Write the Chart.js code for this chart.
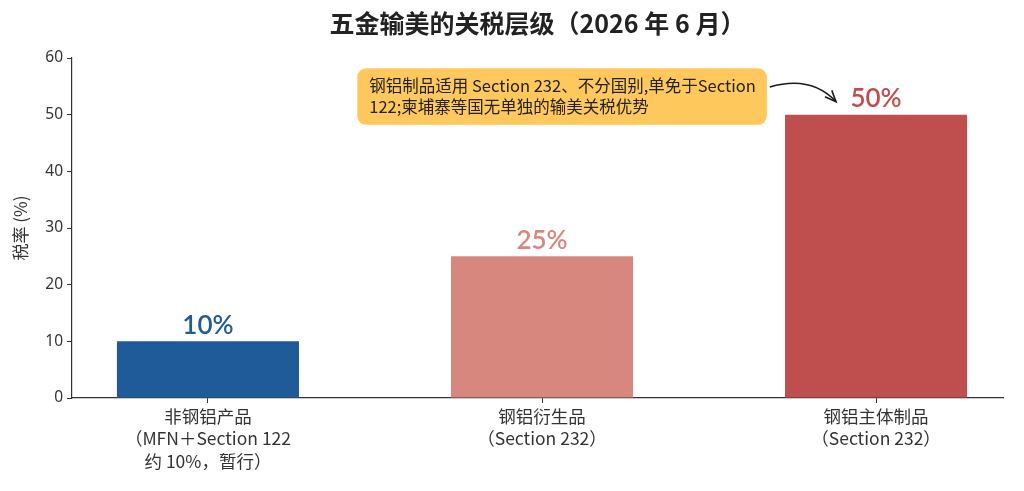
<!DOCTYPE html>
<html>
<head>
<meta charset="utf-8">
<script src="https://cdn.jsdelivr.net/npm/chart.js@4.4.1/dist/chart.umd.min.js"></script>
<style>
  html, body { margin: 0; padding: 0; background: #fff; }
  #wrap { width: 1024px; height: 491px; }
</style>
</head>
<body>
<div id="wrap"><canvas id="tariffChart"></canvas></div>
<script>
// ==================== DATA ====================
const categories = [
    ['非钢铝产品', '（MFN＋Section 122', '约 10%，暂行）'],
    ['钢铝衍生品', '（Section 232）'],
    ['钢铝主体制品', '（Section 232）']
];
const rates = [10, 25, 50];
const rateLabels = ['10%', '25%', '50%'];
const barColors = ['#1f5b99', '#d8877f', '#bf4f4e'];
const yTicks = [0, 10, 20, 30, 40, 50, 60];
const noteLines = [
    '钢铝制品适用 Section 232、不分国别,单免于Section',
    '122;柬埔寨等国无单独的输美关税优势'
];

const CJK = '"Noto Sans CJK SC", "Noto Sans", sans-serif';
const AXIS_COLOR = '#333';

// value labels above each bar
const valueLabels = {
    id: 'valueLabels',
    afterDatasetsDraw(chart) {
        const ctx = chart.ctx;
        const meta = chart.getDatasetMeta(0);
        ctx.save();
        ctx.font = '600 26px Lato, "Noto Sans", sans-serif';
        ctx.textAlign = 'center';
        ctx.textBaseline = 'bottom';
        meta.data.forEach((bar, i) => {
            ctx.fillStyle = barColors[i];
            ctx.fillText(rateLabels[i], bar.x, bar.y - 3);
        });
        ctx.restore();
    }
};

// note box with curved arrow toward the 50% bar
const noteBox = {
    id: 'noteBox',
    afterDraw(chart) {
        const ctx = chart.ctx;
        const xs = chart.scales.x, ys = chart.scales.y;
        const left = xs.getPixelForValue(0.447);
        const right = xs.getPixelForValue(1.673);
        const top = ys.getPixelForValue(58.2);
        const bottom = ys.getPixelForValue(48.2);
        ctx.save();
        ctx.fillStyle = '#ffc85c';
        ctx.beginPath();
        ctx.roundRect(left, top, right - left, bottom - top, 9);
        ctx.fill();

        ctx.fillStyle = '#222';
        ctx.font = '16.5px ' + CJK;
        ctx.textAlign = 'left';
        ctx.textBaseline = 'middle';
        const lh = 21;
        const midY = (top + bottom) / 2;
        noteLines.forEach((line, i) => {
            ctx.fillText(line, left + 12, midY + (i - 0.5) * lh);
        });

        // curved arrow
        const sx = right + 3, sy = midY - lh / 2 + 1;
        const ex = xs.getPixelForValue(1.88), ey = ys.getPixelForValue(52.3);
        const cx = (sx + ex) / 2 + 8, cy = sy - 12;
        ctx.strokeStyle = '#1a1a1a';
        ctx.lineWidth = 1.6;
        ctx.beginPath();
        ctx.moveTo(sx, sy);
        ctx.quadraticCurveTo(cx, cy, ex, ey);
        ctx.stroke();
        const ang = Math.atan2(ey - cy, ex - cx);
        const hl = 12;
        ctx.beginPath();
        ctx.moveTo(ex - hl * Math.cos(ang - 0.4), ey - hl * Math.sin(ang - 0.4));
        ctx.lineTo(ex, ey);
        ctx.lineTo(ex - hl * Math.cos(ang + 0.4), ey - hl * Math.sin(ang + 0.4));
        ctx.stroke();
        ctx.restore();
    }
};

const chart = new Chart(document.getElementById('tariffChart'), {
    type: 'bar',
    data: {
        datasets: [{
            data: rates.map((v, i) => ({ x: i, y: v })),
            backgroundColor: barColors,
            borderWidth: 0,
            barPercentage: 0.545,
            categoryPercentage: 1
        }]
    },
    options: {
        responsive: true,
        maintainAspectRatio: false,
        animation: false,
        layout: { padding: { left: 0, right: 21, top: 0, bottom: 0 } },
        plugins: {
            legend: { display: false },
            tooltip: { enabled: false },
            title: {
                display: true,
                fullSize: false,
                text: '五金输美的关税层级（2026 年 6 月）',
                color: '#222',
                font: { family: CJK, size: 25, weight: 'bold' },
                padding: { top: 8, bottom: 20 }
            }
        },
        scales: {
            x: {
                type: 'linear',
                min: -0.407,
                max: 2.38,
                offset: false,
                afterBuildTicks: scale => {
                    scale.ticks = categories.map((c, i) => ({ value: i }));
                },
                afterFit: scale => { scale.height = 93; },
                ticks: {
                    callback: (v) => categories[v],
                    color: AXIS_COLOR,
                    font: { family: CJK, size: 17.5, lineHeight: 1.28 },
                    padding: 2,
                    maxRotation: 0,
                    autoSkip: false
                },
                grid: { offset: false, drawOnChartArea: false, drawTicks: true, tickLength: 5, color: AXIS_COLOR },
                border: { display: true, color: AXIS_COLOR, width: 1.2 }
            },
            y: {
                min: 0,
                max: 60,
                afterBuildTicks: scale => {
                    scale.ticks = yTicks.map(v => ({ value: v }));
                },
                afterFit: scale => { scale.width = 72; },
                ticks: {
                    color: AXIS_COLOR,
                    font: { family: '"Noto Sans", sans-serif', size: 15.5 },
                    padding: 4
                },
                grid: { offset: false, drawOnChartArea: false, drawTicks: true, tickLength: 5, color: AXIS_COLOR },
                border: { display: true, color: AXIS_COLOR, width: 1.2 },
                title: {
                    display: true,
                    text: '税率 (%)',
                    color: AXIS_COLOR,
                    font: { family: CJK, size: 17 },
                    padding: { top: 10, bottom: 6 }
                }
            }
        }
    },
    plugins: [valueLabels, noteBox]
});
</script>
</body>
</html>
